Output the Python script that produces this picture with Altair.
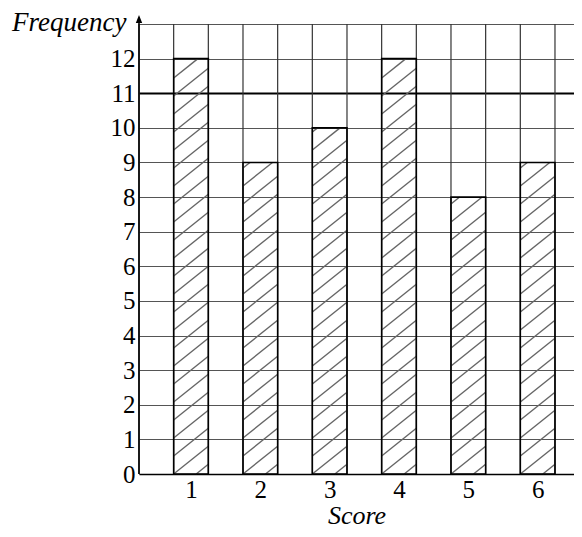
import altair as alt
import pandas as pd

# ---- data ----
scores = [1, 2, 3, 4, 5, 6]
frequencies = [12, 9, 10, 12, 8, 9]
y_tick_values = list(range(0, 14))          # grid rows 0..13 (13 unlabeled)
x_label_values = [1, 2, 3, 4, 5, 6]

SERIF = "Liberation Serif"
PLOT_W, PLOT_H = 435, 450
X_MIN = 0.25
X_MAX = X_MIN + PLOT_W / 69.33          # one score unit = 69.33 px as in the reference
Y_MIN, Y_MAX = 0, 13
HALF = 0.25          # half bar width in score units

bars_df = pd.DataFrame({"score": scores, "freq": frequencies})

# vertical grid lines at every half score unit (bar edges)
vgrid_df = pd.DataFrame({"gx": [X_MIN + 0.5 * k for k in range(13)]})

# diagonal hatching segments clipped to each bar
RISE, GAP = 0.8, 0.52
rows = []
for s, f in zip(scores, frequencies):
    y0 = -2 * GAP
    while y0 < f:
        t0 = max(0.0, -y0 / RISE)
        t1 = min(1.0, (f - y0) / RISE)
        if t1 > t0:
            rows.append(dict(hx1=s - HALF + 2 * HALF * t0, hy1=y0 + RISE * t0,
                             hx2=s - HALF + 2 * HALF * t1, hy2=y0 + RISE * t1))
        y0 += GAP
hatch_df = pd.DataFrame(rows)

xscale = alt.Scale(domain=[X_MIN, X_MAX], nice=False, zero=False)
yscale = alt.Scale(domain=[Y_MIN, Y_MAX], nice=False)

x_axis = alt.Axis(values=x_label_values, format="d", grid=False, ticks=False, domain=True,
                  domainColor="black", domainWidth=1.6,
                  labelFont=SERIF, labelFontSize=25, labelColor="black",
                  labelPadding=3, labelAngle=0,
                  title="Score", titleFont=SERIF, titleFontSize=26,
                  titleFontStyle="italic", titleFontWeight="normal",
                  titleColor="black", titleBaseline="alphabetic", titleY=49)

y_axis = alt.Axis(values=y_tick_values, format="d", grid=True,
                  gridColor=alt.condition("datum.value === 11", alt.value("black"), alt.value("#555555")),
                  gridWidth=alt.condition("datum.value === 11", alt.value(2.2), alt.value(1)),
                  ticks=False, domain=False,
                  labelExpr="datum.value == 13 ? '' : datum.label",
                  labelFont=SERIF, labelFontSize=25, labelColor="black",
                  labelPadding=4,
                  title="Frequency", titleFont=SERIF, titleFontSize=27,
                  titleFontStyle="italic", titleFontWeight="normal",
                  titleColor="black", titleAngle=0, titleAlign="right",
                  titleBaseline="alphabetic", titleX=-13, titleY=6)


def X(field):
    return alt.X(field, type="quantitative", scale=xscale, axis=x_axis)


def Y(field):
    return alt.Y(field, type="quantitative", scale=yscale, axis=y_axis)


base = alt.Chart(bars_df)

vgrid = alt.Chart(vgrid_df).mark_rule(color="#333333", strokeWidth=1.2).encode(
    x=X("gx"),
    y=alt.value(0),
    y2=alt.value(PLOT_H),
)

hatch = alt.Chart(hatch_df).mark_rule(color="#666666", strokeWidth=1.4).encode(
    x=X("hx1"),
    y=Y("hy1"),
    x2="hx2:Q",
    y2="hy2:Q",
)

bars = base.transform_calculate(
    x_lo=f"datum.score - {HALF}", x_hi=f"datum.score + {HALF}", y_lo="0"
).mark_rect(fill=None, fillOpacity=0, stroke="black", strokeWidth=1.6).encode(
    x=X("x_lo"),
    x2="x_hi:Q",
    y=Y("y_lo"),
    y2="freq:Q",
)

axis_line = alt.Chart(pd.DataFrame({"ax": [X_MIN]})).mark_rule(
    color="black", strokeWidth=1.6
).encode(
    x=X("ax"),
    y=alt.value(PLOT_H),
    y2=alt.value(-4),
)

arrow = alt.Chart(pd.DataFrame({"ax": [X_MIN]})).mark_point(
    shape="M0,-1L0.8,1L-0.8,1Z", filled=True, color="black", opacity=1, size=64
).encode(
    x=X("ax"),
    y=alt.value(-5),
)

chart = alt.layer(vgrid, hatch, bars, axis_line, arrow).properties(
    width=PLOT_W, height=PLOT_H,
    autosize=alt.AutoSizeParams(type="none"),
    padding={"left": 131, "top": 16, "right": 0, "bottom": 55},
).configure_view(stroke=None)

chart.save("out.html", embed_options={"renderer": "svg", "actions": False})
